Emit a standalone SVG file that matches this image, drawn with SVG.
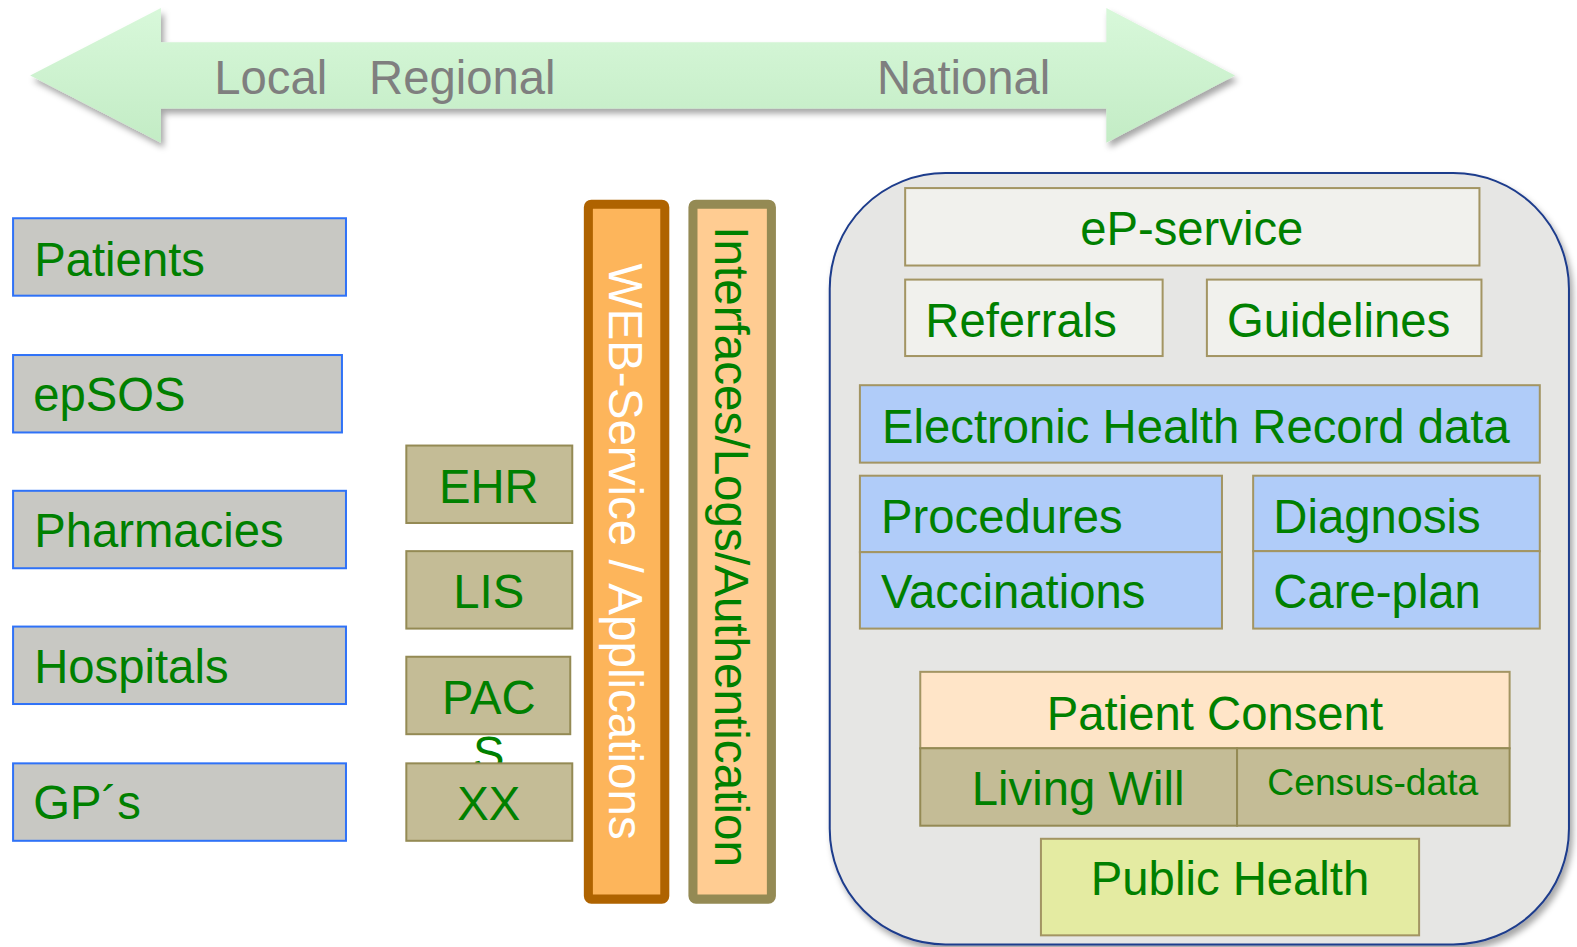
<svg xmlns="http://www.w3.org/2000/svg" width="1577" height="947" viewBox="0 0 1577 947">
<style>
text{font-family:"Liberation Sans",Arial,sans-serif;font-size:47px;fill:#008000}
.lbox{fill:#C8C8C3;stroke:#2F72F7;stroke-width:2}
.mbox{fill:#C4BC96;stroke:#948A54;stroke-width:2}
.wbox{fill:#F1F1ED;stroke:#A39563;stroke-width:2}
.bbox{fill:#B0CCF9;stroke:#A39563;stroke-width:2}
.grey{fill:#7F7F7F}
.mid{text-anchor:middle}
</style>
<defs>
<linearGradient id="ag" x1="0" y1="0" x2="0" y2="1">
<stop offset="0" stop-color="#D8F8DA"/>
<stop offset="1" stop-color="#C3ECC5"/>
</linearGradient>
<filter id="sh" x="-10%" y="-10%" width="120%" height="130%">
<feGaussianBlur in="SourceAlpha" stdDeviation="3"/>
<feOffset dx="3" dy="5" result="b"/>
<feFlood flood-color="#000" flood-opacity="0.35"/>
<feComposite in2="b" operator="in"/>
<feMerge><feMergeNode/><feMergeNode in="SourceGraphic"/></feMerge>
</filter>
</defs>
<g transform="scale(1.00574)">
<g id="scale-arrow">
<polygon filter="url(#sh)" fill="url(#ag)" points="30,75 160,8 160,42 1100,42 1100,8 1228,75 1100,142 1100,108 160,108 160,142"/>
<text class="grey" x="213" y="93">Local</text>
<text class="grey" x="367" y="93">Regional</text>
<text class="grey" x="872" y="93">National</text>
</g>
<g id="patients"><rect class="lbox" x="13" y="217" width="331" height="77"/><text x="34" y="274">Patients</text></g>
<g id="epsos"><rect class="lbox" x="13" y="353" width="327" height="77"/><text x="33" y="409">epSOS</text></g>
<g id="pharmacies"><rect class="lbox" x="13" y="488" width="331" height="77"/><text x="34" y="544">Pharmacies</text></g>
<g id="hospitals"><rect class="lbox" x="13" y="623" width="331" height="77"/><text x="34" y="679">Hospitals</text></g>
<g id="gps"><rect class="lbox" x="13" y="759" width="331" height="77"/><text x="33" y="814">GP´s</text></g>
<g id="ehr"><rect class="mbox" x="404" y="443" width="165" height="77"/><text class="mid" x="486" y="500">EHR</text></g>
<g id="lis"><rect class="mbox" x="404" y="548" width="165" height="77"/><text class="mid" x="486" y="605">LIS</text></g>
<g id="pacs"><rect class="mbox" x="404" y="653" width="163" height="77"/><text class="mid" x="486" y="710">PAC</text><text class="mid" x="486" y="766">S</text></g>
<g id="xx"><rect class="mbox" x="404" y="759" width="165" height="77"/><text class="mid" x="486" y="815">XX</text></g>
<g id="web-service">
<rect x="585" y="203" width="76" height="691" rx="3" fill="#FDB55B" stroke="#AF6300" stroke-width="9"/>
<text transform="translate(606,262) rotate(90)" style="fill:#fff" textLength="573" lengthAdjust="spacingAndGlyphs">WEB-Service / Applications</text>
</g>
<g id="interfaces">
<rect x="689" y="203" width="78" height="691" rx="3" fill="#FFCC92" stroke="#948A54" stroke-width="9"/>
<text transform="translate(711,225) rotate(90)" textLength="637" lengthAdjust="spacingAndGlyphs">Interfaces/Logs/Authentication</text>
</g>
<g id="national-panel">
<rect x="825" y="172" width="735" height="767" rx="115" fill="#E6E6E4" stroke="#1F3C8C" stroke-width="2" filter="url(#sh)"/>
</g>
<g id="ep-service"><rect class="wbox" x="900" y="187" width="571" height="77"/><text class="mid" x="1185" y="244">eP-service</text></g>
<g id="referrals"><rect class="wbox" x="900" y="278" width="256" height="76"/><text x="920" y="335">Referrals</text></g>
<g id="guidelines"><rect class="wbox" x="1200" y="278" width="273" height="76"/><text x="1220" y="335">Guidelines</text></g>
<g id="ehr-data"><rect class="bbox" x="855" y="383" width="676" height="77"/><text x="877" y="440">Electronic Health Record data</text></g>
<g id="procedures"><rect class="bbox" x="855" y="473" width="360" height="76"/><text x="876" y="530">Procedures</text></g>
<g id="vaccinations"><rect class="bbox" x="855" y="549" width="360" height="76"/><text x="876" y="605">Vaccinations</text></g>
<g id="diagnosis"><rect class="bbox" x="1246" y="473" width="285" height="75"/><text x="1266" y="530">Diagnosis</text></g>
<g id="care-plan"><rect class="bbox" x="1246" y="548" width="285" height="77"/><text x="1266" y="605">Care-plan</text></g>
<g id="patient-consent"><rect x="915" y="668" width="586" height="76" fill="#FFE5C8" stroke="#A39563" stroke-width="2"/><text class="mid" x="1208" y="726">Patient Consent</text></g>
<g id="living-will"><rect class="mbox" x="915" y="744" width="315" height="77"/><text class="mid" x="1072" y="800">Living Will</text></g>
<g id="census-data"><rect class="mbox" x="1230" y="744" width="271" height="77"/><text class="mid" x="1365" y="790" style="font-size:37px">Census-data</text></g>
<g id="public-health"><rect x="1035" y="834" width="376" height="96" fill="#E4EBA2" stroke="#A39563" stroke-width="2"/><text class="mid" x="1223" y="890">Public Health</text></g>
<g id="connectors"></g>
</g>
</svg>
